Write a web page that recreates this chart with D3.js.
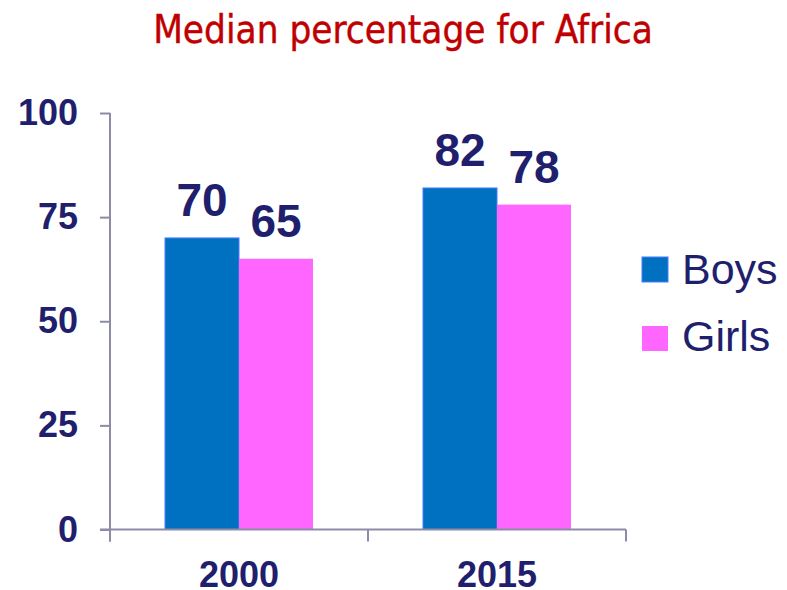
<!DOCTYPE html>
<html>
<head>
<meta charset="utf-8">
<script src="https://cdn.jsdelivr.net/npm/d3@7"></script>
<style>
  html, body { margin: 0; padding: 0; background: #fff; }
  svg { display: block; }
</style>
</head>
<body>
<script>
const years = ['2000', '2015']
const series = ['Boys', 'Girls']
const boys = [70, 82]
const girls = [65, 78]
const yTicks = [0, 25, 50, 75, 100]

const colors = { Boys: '#0070c0', Girls: '#ff66ff' }
const navy = '#1f1f6e'
const axisColor = '#8c8ca8'

const width = 787, height = 590
const svg = d3.select('body').append('svg')
  .attr('width', width)
  .attr('height', height)

const y = d3.scaleLinear().domain([0, 100]).range([529.5, 113])
const x = d3.scaleBand().domain(years).range([110, 626])
const xSub = d3.scaleBand().domain(series).range([55, x.bandwidth() - 55])

const rows = years.map((yr, i) => ({ year: yr, Boys: boys[i], Girls: girls[i] }))

// title
const title = svg.append('text')
  .attr('x', 403)
  .attr('y', 43)
  .attr('text-anchor', 'middle')
  .style('font-family', '"DejaVu Sans Condensed", "DejaVu Sans", sans-serif')
  .style('font-size', '34px')
  .style('fill', '#c00000')
  .style('stroke', '#c00000')
  .style('stroke-width', 0.4)
  .text('Median percentage for Africa')
const tw = title.node().getComputedTextLength()
title.style('font-size', `${34 * 500 / tw}px`)

// bars
const groups = svg.append('g').selectAll('g')
  .data(rows)
  .join('g')
  .attr('transform', d => `translate(${x(d.year)},0)`)

groups.selectAll('rect')
  .data(d => series.map(s => ({ key: s, value: d[s] })))
  .join('rect')
  .attr('x', d => xSub(d.key))
  .attr('y', d => y(d.value))
  .attr('width', xSub.bandwidth())
  .attr('height', d => y(0) - y(d.value))
  .attr('fill', d => colors[d.key])
  .attr('stroke', d => d.key === 'Boys' ? '#4a7cff' : 'none')
  .attr('stroke-width', 1)

groups.selectAll('text')
  .data(d => series.map(s => ({ key: s, value: d[s] })))
  .join('text')
  .attr('x', d => xSub(d.key) + xSub.bandwidth() / 2)
  .attr('y', d => y(d.value) - 22)
  .attr('text-anchor', 'middle')
  .style('font-family', '"Liberation Sans", Arial, sans-serif')
  .style('font-weight', 'bold')
  .style('font-size', '46px')
  .style('fill', navy)
  .text(d => d.value)

// y axis
const yAxis = svg.append('g')
  .attr('transform', 'translate(110,0)')
  .call(d3.axisLeft(y).tickValues(yTicks).tickSize(10).tickSizeOuter(0).tickPadding(22))
yAxis.select('.domain').remove()
yAxis.append('line')
  .attr('x1', 0).attr('x2', 0)
  .attr('y1', y(100)).attr('y2', y(0) + 12)
  .attr('stroke', axisColor).attr('stroke-width', 2)
yAxis.selectAll('.tick line').attr('stroke', axisColor).attr('stroke-width', 2)
yAxis.selectAll('.tick text')
  .style('font-family', '"Liberation Sans", Arial, sans-serif')
  .style('font-weight', 'bold')
  .style('font-size', '36px')
  .style('fill', navy)

// x axis
const xAxis = svg.append('g')
  .attr('transform', `translate(0,${y(0)})`)
  .call(d3.axisBottom(x).tickSize(0).tickPadding(32))
xAxis.select('.domain').remove()
xAxis.append('line')
  .attr('x1', x.range()[0] - 10).attr('x2', x.range()[1])
  .attr('y1', 0).attr('y2', 0)
  .attr('stroke', axisColor).attr('stroke-width', 2)
xAxis.selectAll('.bound')
  .data(years.map(d => x(d)).concat([x.range()[1]]))
  .join('line')
  .attr('x1', d => d).attr('x2', d => d)
  .attr('y1', 0).attr('y2', 12)
  .attr('stroke', axisColor).attr('stroke-width', 2)
xAxis.selectAll('.tick text')
  .style('font-family', '"Liberation Sans", Arial, sans-serif')
  .style('font-weight', 'bold')
  .style('font-size', '36px')
  .style('fill', navy)

// legend
const legend = svg.append('g').selectAll('g')
  .data(series)
  .join('g')
  .attr('transform', (d, i) => `translate(642,${257 + i * 69})`)
legend.append('rect')
  .attr('width', 26).attr('height', 25)
  .attr('fill', d => colors[d])
  .attr('stroke', d => d === 'Boys' ? '#4a7cff' : 'none')
legend.append('text')
  .attr('x', 40)
  .attr('y', d => d === 'Boys' ? 27 : 25)
  .style('font-family', '"Liberation Sans", Arial, sans-serif')
  .style('font-size', '43px')
  .style('fill', navy)
  .text(d => d)
</script>
</body>
</html>
